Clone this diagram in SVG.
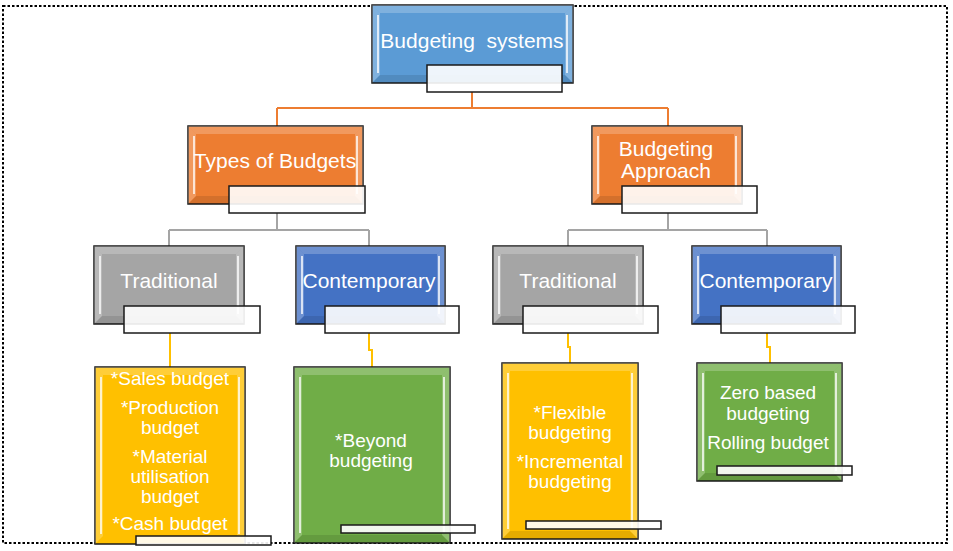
<svg xmlns="http://www.w3.org/2000/svg" width="953" height="551" viewBox="0 0 953 551">
<style>
.box{stroke:#1a1a1a;stroke-width:1.5}
.blue1{fill:#5B9BD5}.orange{fill:#ED7D31}.gray{fill:#A5A5A5}.blue2{fill:#4472C4}.yellow{fill:#FFC000}.green{fill:#70AD47}
.bl{fill:#fff;opacity:.22}
.bd{fill:#000;opacity:.1}
.hl{stroke:#fff;stroke-width:2;opacity:.75;fill:none}
.bar{fill:#fff;fill-opacity:.9;stroke:#1a1a1a;stroke-width:1.5}
.t{font-family:"Liberation Sans",Arial,sans-serif;fill:#fff;text-anchor:middle;white-space:pre}
.t1{font-size:21px}.t2{font-size:19px}
.co{fill:none;stroke-width:2}
.or{stroke:#ED7D31}.gr{stroke:#A5A5A5}.ye{stroke:#FFC000}
.frame{fill:none;stroke:#000;stroke-width:2;stroke-dasharray:2.5 2}
</style>
<rect class="frame" x="3" y="6" width="944" height="537"/>
<g id="connectors">
<path class="co or" d="M472 92V108M277 108H668M277 108V126M668 108V126"/>
<path class="co gr" d="M277 213V230M169 230H369M169 230V246M369 230V246M668 213V230M568 230H767M568 230V246M767 230V246"/>
<path class="co ye" d="M170 333V367M369 333V350H372V367M568 333V347H570V363M767 333V347H770V363"/>
</g>
<g id="root">
<rect class="box blue1" x="372" y="5" width="201" height="78"/>
<polygon class="bl" points="372,5 380,13 380,75 372,83"/><polygon class="bl" points="573,5 565,13 565,75 573,83"/><polygon class="bl" points="372,5 573,5 565,13 380,13"/><polygon class="bd" points="372,83 573,83 565,75 380,75"/>
<path class="hl" d="M378 15V73M567 15V73"/>
<text class="t t1" x="472" y="47.5">Budgeting  systems</text>
<rect class="bar" x="427" y="65" width="135" height="27"/>
</g>
<g id="types">
<rect class="box orange" x="188" y="126" width="175" height="78"/>
<polygon class="bl" points="188,126 196,134 196,196 188,204"/><polygon class="bl" points="363,126 355,134 355,196 363,204"/><polygon class="bl" points="188,126 363,126 355,134 196,134"/><polygon class="bd" points="188,204 363,204 355,196 196,196"/>
<path class="hl" d="M194 136V194M357 136V194"/>
<text class="t t1" x="275" y="167.5">Types of Budgets</text>
<rect class="bar" x="229" y="186" width="136" height="27"/>
</g>
<g id="approach">
<rect class="box orange" x="592" y="126" width="150" height="78"/>
<polygon class="bl" points="592,126 600,134 600,196 592,204"/><polygon class="bl" points="742,126 734,134 734,196 742,204"/><polygon class="bl" points="592,126 742,126 734,134 600,134"/><polygon class="bd" points="592,204 742,204 734,196 600,196"/>
<path class="hl" d="M598 136V194M736 136V194"/>
<text class="t t1" x="666" y="155.5">Budgeting</text>
<text class="t t1" x="666" y="177.5">Approach</text>
<rect class="bar" x="622" y="186" width="135" height="27"/>
</g>
<g id="traditional1">
<rect class="box gray" x="94" y="246" width="150" height="78"/>
<polygon class="bl" points="94,246 102,254 102,316 94,324"/><polygon class="bl" points="244,246 236,254 236,316 244,324"/><polygon class="bl" points="94,246 244,246 236,254 102,254"/><polygon class="bd" points="94,324 244,324 236,316 102,316"/>
<path class="hl" d="M100 256V314M238 256V314"/>
<text class="t t1" x="169" y="287.5">Traditional</text>
<rect class="bar" x="124" y="306" width="136" height="27"/>
</g>
<g id="contemporary1">
<rect class="box blue2" x="296" y="246" width="149" height="78"/>
<polygon class="bl" points="296,246 304,254 304,316 296,324"/><polygon class="bl" points="445,246 437,254 437,316 445,324"/><polygon class="bl" points="296,246 445,246 437,254 304,254"/><polygon class="bd" points="296,324 445,324 437,316 304,316"/>
<path class="hl" d="M302 256V314M439 256V314"/>
<text class="t t1" x="369" y="287.5">Contemporary</text>
<rect class="bar" x="325" y="306" width="134" height="27"/>
</g>
<g id="traditional2">
<rect class="box gray" x="493" y="246" width="150" height="78"/>
<polygon class="bl" points="493,246 501,254 501,316 493,324"/><polygon class="bl" points="643,246 635,254 635,316 643,324"/><polygon class="bl" points="493,246 643,246 635,254 501,254"/><polygon class="bd" points="493,324 643,324 635,316 501,316"/>
<path class="hl" d="M499 256V314M637 256V314"/>
<text class="t t1" x="568" y="287.5">Traditional</text>
<rect class="bar" x="523" y="306" width="135" height="27"/>
</g>
<g id="contemporary2">
<rect class="box blue2" x="692" y="246" width="149" height="78"/>
<polygon class="bl" points="692,246 700,254 700,316 692,324"/><polygon class="bl" points="841,246 833,254 833,316 841,324"/><polygon class="bl" points="692,246 841,246 833,254 700,254"/><polygon class="bd" points="692,324 841,324 833,316 700,316"/>
<path class="hl" d="M698 256V314M835 256V314"/>
<text class="t t1" x="766" y="287.5">Contemporary</text>
<rect class="bar" x="721" y="306" width="134" height="27"/>
</g>
<g id="leaf-types-traditional">
<rect class="box yellow" x="95" y="367" width="150" height="177"/>
<polygon class="bl" points="95,367 103,375 103,536 95,544"/><polygon class="bl" points="245,367 237,375 237,536 245,544"/><polygon class="bl" points="95,367 245,367 237,375 103,375"/>
<path class="hl" d="M101 377V534M239 377V534"/>
<text class="t t2" x="170" y="385">*Sales budget</text>
<text class="t t2" x="170" y="414">*Production</text>
<text class="t t2" x="170" y="434">budget</text>
<text class="t t2" x="170" y="463">*Material</text>
<text class="t t2" x="170" y="483">utilisation</text>
<text class="t t2" x="170" y="503">budget</text>
<text class="t t2" x="170" y="530">*Cash budget</text>
<rect class="bar" x="136" y="536" width="135" height="9"/>
</g>
<g id="leaf-types-contemporary">
<rect class="box green" x="294" y="367" width="156" height="176"/>
<polygon class="bl" points="294,367 302,375 302,535 294,543"/><polygon class="bl" points="450,367 442,375 442,535 450,543"/><polygon class="bl" points="294,367 450,367 442,375 302,375"/><polygon class="bd" points="294,543 450,543 442,535 302,535"/>
<path class="hl" d="M300 377V533M444 377V533"/>
<text class="t t2" x="371" y="447">*Beyond</text>
<text class="t t2" x="371" y="467">budgeting</text>
<rect class="bar" x="341" y="525" width="134" height="8"/>
</g>
<g id="leaf-approach-traditional">
<rect class="box yellow" x="502" y="363" width="136" height="176"/>
<polygon class="bl" points="502,363 510,371 510,531 502,539"/><polygon class="bl" points="638,363 630,371 630,531 638,539"/><polygon class="bl" points="502,363 638,363 630,371 510,371"/><polygon class="bd" points="502,539 638,539 630,531 510,531"/>
<path class="hl" d="M508 373V529M632 373V529"/>
<text class="t t2" x="570" y="419">*Flexible</text>
<text class="t t2" x="570" y="439">budgeting</text>
<text class="t t2" x="570" y="468">*Incremental</text>
<text class="t t2" x="570" y="488">budgeting</text>
<rect class="bar" x="526" y="521" width="135" height="8"/>
</g>
<g id="leaf-approach-contemporary">
<rect class="box green" x="697" y="363" width="145" height="118"/>
<polygon class="bl" points="697,363 705,371 705,473 697,481"/><polygon class="bl" points="842,363 834,371 834,473 842,481"/><polygon class="bl" points="697,363 842,363 834,371 705,371"/><polygon class="bd" points="697,481 842,481 834,473 705,473"/>
<path class="hl" d="M703 373V471M836 373V471"/>
<text class="t t2" x="768" y="399">Zero based</text>
<text class="t t2" x="768" y="420">budgeting</text>
<text class="t t2" x="768" y="449">Rolling budget</text>
<rect class="bar" x="717" y="466" width="135" height="9"/>
</g>
</svg>
